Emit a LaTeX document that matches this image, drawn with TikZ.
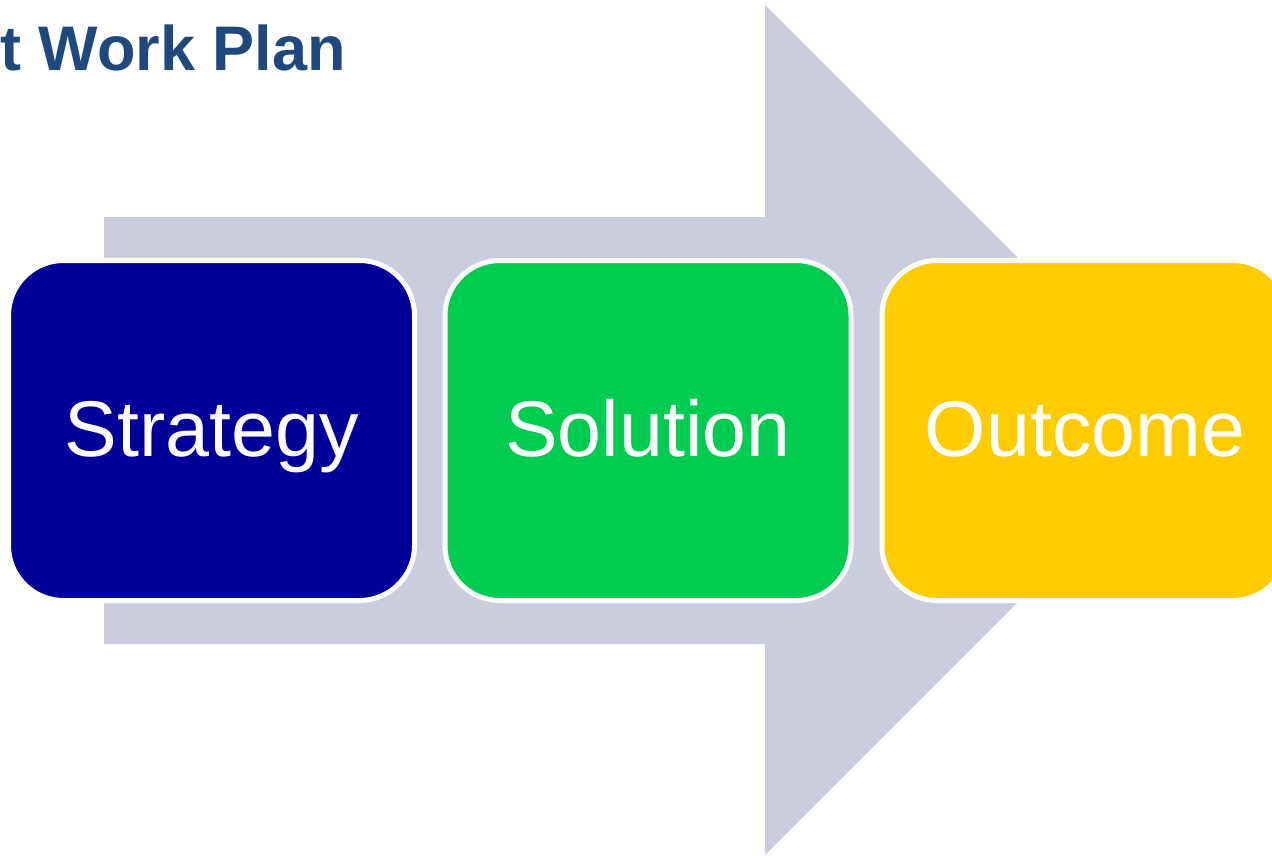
\documentclass[tikz,border=0pt]{standalone}
\usepackage{fontspec}
\setmainfont{Liberation Sans}
\definecolor{arrowgray}{RGB}{203,204,222}
\definecolor{stratblue}{RGB}{0,0,153}
\definecolor{solgreen}{RGB}{0,204,82}
\definecolor{outyellow}{RGB}{255,204,0}
\definecolor{titleblue}{RGB}{31,73,125}
\tikzset{
  stagebox/.style={draw=white, line width=5pt, rounded corners=55pt,
    minimum width=406pt, minimum height=340pt, inner sep=0pt,
    text=white, font=\fontsize{79}{79}\selectfont,
    text height=70pt, text depth=18pt},
  bigarrow/.style={fill=arrowgray, draw=none}
}
\begin{document}
\begin{tikzpicture}[x=1pt,y=-1pt]
\useasboundingbox (0,0) rectangle (1272,856);
\fill[white] (0,0) rectangle (1272,856);
\node[anchor=base east, text=titleblue, inner sep=0pt,
  font=\bfseries\fontsize{63}{63}\selectfont] (title) at (346,71) {t Work Plan};
\path[bigarrow] (104,217) -- (765,217) -- (765,5) -- (1190,430)
  -- (765,855) -- (765,644) -- (104,644) -- cycle;
\node[stagebox, fill=stratblue] (strategy) at (211.5,430.5) {Strategy};
\node[stagebox, fill=solgreen] (solution) at (648,430.5) {Solution};
\node[stagebox, fill=outyellow] (outcome) at (1085,430.5) {Outcome};
\end{tikzpicture}
\end{document}
